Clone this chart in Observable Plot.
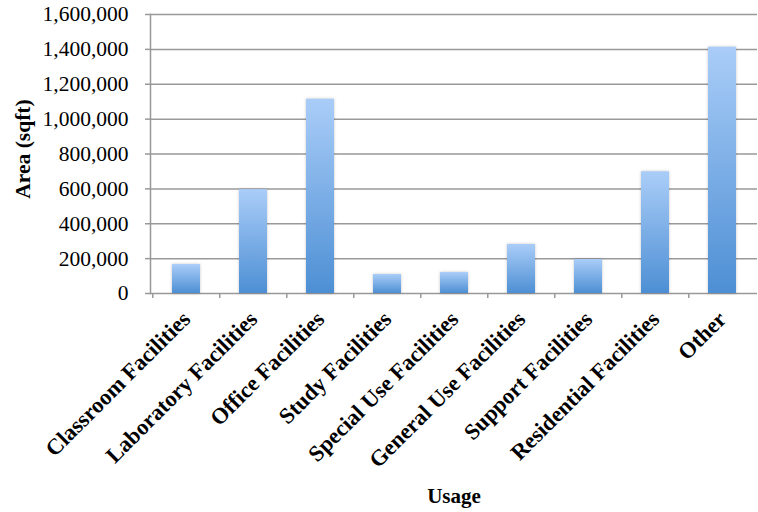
<!DOCTYPE html>
<html><head><meta charset="utf-8">
<script src="https://cdn.jsdelivr.net/npm/d3@7"></script>
<script src="https://cdn.jsdelivr.net/npm/@observablehq/plot@0.6"></script>
<style>
body{margin:0;background:#fff}
.bars rect{filter:drop-shadow(0 0 1.5px rgba(0,0,0,0.22))}
</style>
</head><body><div id="chart"></div>
<script>
const categories = ["Classroom Facilities", "Laboratory Facilities", "Office Facilities", "Study Facilities", "Special Use Facilities", "General Use Facilities", "Support Facilities", "Residential Facilities", "Other"];
const areas = [166000, 596000, 1114000, 109000, 120000, 281000, 195000, 698000, 1412000];
const yTicks = [0, 200000, 400000, 600000, 800000, 1000000, 1200000, 1400000, 1600000];
const yLabel = "Area (sqft)";
const xLabel = "Usage";

const data = categories.map((c, i) => ({usage: c, area: areas[i]}));
const W = 758, H = 512, mL = 150, mR = 1, mT = 14, mB = 219;
const step = (W - mL - mR) / categories.length;
const grey = "#999";

const chart = Plot.plot({
  width: W, height: H,
  marginLeft: mL, marginRight: mR, marginTop: mT, marginBottom: mB,
  style: {fontFamily: "'Liberation Serif', 'Times New Roman', serif", fontSize: "21.5px", color: "#000", background: "#fff"},
  x: {domain: categories, paddingInner: 0.585, paddingOuter: 0.2925},
  y: {domain: [0, 1600000]},
  marks: [
    Plot.gridY(yTicks, {stroke: grey, strokeOpacity: 1, strokeWidth: 1.5}),
    Plot.barY(data, {x: "usage", y: "area", fill: "url(#barGrad)", className: "bars"}),
    Plot.axisY(yTicks, {tickSize: 5, tickPadding: 17, stroke: grey, strokeWidth: 1.5, tickFormat: d3.format(","), label: null}),
    Plot.frame({anchor: "left", stroke: grey, strokeWidth: 1.5}),
    Plot.axisX({tickSize: 5, dx: -step / 2, tickFormat: () => "", stroke: grey, strokeWidth: 1.5, label: null}),
    Plot.axisX({tickSize: 0, tickRotate: -45, tickPadding: 22, fontWeight: "bold", fontSize: 22.5, label: null}),
    Plot.text([yLabel], {frameAnchor: "left", dx: -127, dy: -5, rotate: -90, textAnchor: "middle", lineAnchor: "middle", fontWeight: "bold", fontSize: 21.5}),
    Plot.text([xLabel], {frameAnchor: "bottom", dy: 203, textAnchor: "middle", lineAnchor: "middle", fontWeight: "bold", fontSize: 21})
  ]
});

const svgNode = chart.tagName.toLowerCase() === "svg" ? chart : chart.querySelector("svg");
const defs = d3.select(svgNode).insert("defs", ":first-child");
const grad = defs.append("linearGradient").attr("id", "barGrad")
  .attr("x1", 0).attr("y1", 0).attr("x2", 0).attr("y2", 1);
grad.append("stop").attr("offset", 0).attr("stop-color", "#aacdf8");
grad.append("stop").attr("offset", 1).attr("stop-color", "#4d8fd4");

document.getElementById("chart").appendChild(chart);
</script>
</body></html>
